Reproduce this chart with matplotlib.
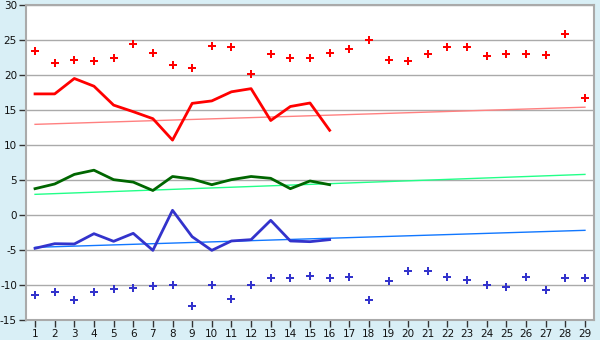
import matplotlib
matplotlib.use("Agg")
import matplotlib.pyplot as plt
import numpy as np

plt.rcParams["axes.unicode_minus"] = False

days = list(range(1, 30))

max_points = [23.4, 21.7, 22.1, 21.95, 22.4, 24.4, 23.2, 21.4, 20.95, 24.2,
              23.95, 20.1, 22.95, 22.5, 22.4, 23.1, 23.7, 24.95, 22.2, 21.95,
              22.95, 23.95, 23.95, 22.65, 22.95, 22.95, 22.8, 25.8, 16.7]
min_points = [-11.47, -11.05, -12.19, -11.05, -10.62, -10.48, -10.19, -10.05, -13.05, -10.05,
              -12.05, -10.05, -9.05, -9.05, -8.76, -9.05, -8.9, -12.19, -9.48, -8.05,
              -8.05, -8.9, -9.33, -10.05, -10.33, -8.9, -10.76, -9.05, -9.05]

line_days = list(range(1, 17))
red_line = [17.3, 17.3, 19.5, 18.4, 15.7, 14.76, 13.76, 10.7, 15.95, 16.3,
            17.6, 18.05, 13.5, 15.5, 16.0, 12.1]
green_line = [3.76, 4.43, 5.8, 6.4, 5.05, 4.7, 3.5, 5.5, 5.14, 4.33,
              5.05, 5.5, 5.24, 3.76, 4.86, 4.33]
blue_line = [-4.76, -4.1, -4.14, -2.67, -3.76, -2.62, -5.05, 0.67, -3.1, -5.05,
             -3.71, -3.52, -0.76, -3.71, -3.81, -3.52]

trend_days = [1, 29]
red_trend = [12.95, 15.4]
green_trend = [2.95, 5.8]
blue_trend = [-4.62, -2.19]

yticks = [-15, -10, -5, 0, 5, 10, 15, 20, 25, 30]
ytick_labels = [str(v) for v in yticks]

fig = plt.figure(figsize=(6, 3.4), dpi=100)
fig.patch.set_facecolor("#D9EFF6")
ax = fig.add_axes([26/600, 1-320/340, 568/600, 315/340])
ax.set_facecolor("white")

for y in yticks:
    ax.axhline(y, color="#AAAAAA", lw=1.0, zorder=1)

ax.plot(trend_days, red_trend, color="#FF8080", lw=1.0, zorder=2)
ax.plot(trend_days, green_trend, color="#22FF88", lw=1.0, zorder=2)
ax.plot(trend_days, blue_trend, color="#1177FF", lw=1.0, zorder=2)

ax.plot(line_days, red_line, color="#FF0000", lw=2.0, zorder=3)
ax.plot(line_days, green_line, color="#006600", lw=2.0, zorder=3)
ax.plot(line_days, blue_line, color="#3333CC", lw=2.0, zorder=3)

ax.plot(days, max_points, ls="none", marker="P", ms=5.5, color="#FF0000", mew=0, zorder=4)
ax.plot(days, min_points, ls="none", marker="P", ms=5.5, color="#3333CC", mew=0, zorder=4)

ax.set_xlim(0.54, 29.46)
ax.set_ylim(-15, 30)
ax.set_xticks(days)
ax.set_xticklabels([str(d) for d in days])
ax.set_yticks(yticks)
ax.set_yticklabels(ytick_labels)
ax.tick_params(axis="both", direction="out", length=5, width=1, color="#333333",
               labelsize=7.5, labelcolor="#111111", pad=1.5)
for s in ax.spines.values():
    s.set_color("#AAAAAA")
    s.set_linewidth(1.5)

fig.savefig("out.png", dpi=100, facecolor=fig.get_facecolor())
